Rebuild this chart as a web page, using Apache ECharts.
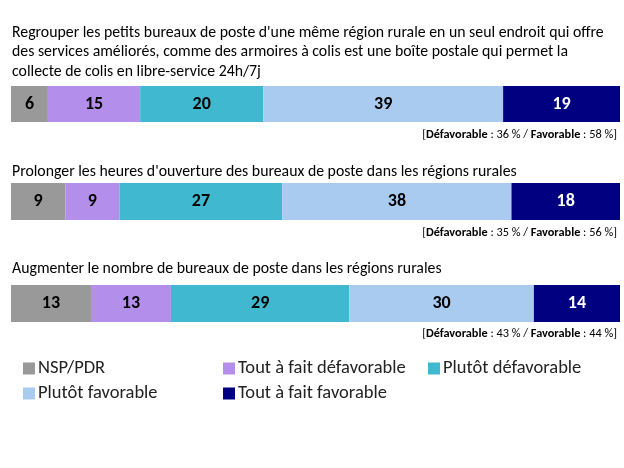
<!DOCTYPE html>
<html><head><meta charset="utf-8">
<script src="https://cdn.jsdelivr.net/npm/echarts@6/dist/echarts.min.js"></script>
<style>html,body{margin:0;padding:0;background:#fff}#c{width:624px;height:468px}</style>
</head><body><div id="c"></div>
<script>
const questions = [
  "Regrouper les petits bureaux de poste d'une même région rurale en un seul endroit qui offre\ndes services améliorés, comme des armoires à colis est une boîte postale qui permet la\ncollecte de colis en libre-service 24h/7j",
  "Prolonger les heures d'ouverture des bureaux de poste dans les régions rurales",
  "Augmenter le nombre de bureaux de poste dans les régions rurales"
];
const seriesNames = ["NSP/PDR", "Tout à fait défavorable", "Plutôt défavorable", "Plutôt favorable", "Tout à fait favorable"];
const nsp = [6, 9, 13];
const toutDefav = [15, 9, 13];
const plutotDefav = [20, 27, 29];
const plutotFav = [39, 38, 30];
const toutFav = [19, 18, 14];
const defavTotals = [36, 35, 43];
const favTotals = [58, 56, 44];

const colors = ["#999999", "#B38FEB", "#40B8CF", "#A9CBF0", "#000080"];
const labelColors = ["#000", "#000", "#000", "#000", "#fff"];
const allValues = [nsp, toutDefav, plutotDefav, plutotFav, toutFav];
const FONT = "Carlito, 'Liberation Sans', sans-serif";

const gridTops = [86, 183, 285];
const gridH = [36, 37, 37];
const titleTops = [23, 162, 259];
const annotTops = [129, 227, 328];

const grids = gridTops.map((t, i) => ({left: 11, right: 4, top: t, height: gridH[i]}));
const xAxes = grids.map((g, i) => ({gridIndex: i, type: 'value', min: 0, max: 100, show: false}));
const yAxes = grids.map((g, i) => ({gridIndex: i, type: 'category', data: [i], show: false}));

const series = [];
for (let r = 0; r < 3; r++) {
  const rowSum = allValues.reduce((s, arr) => s + arr[r], 0);
  allValues.forEach((arr, k) => {
    series.push({
      name: seriesNames[k], type: 'bar', stack: 'row' + r,
      xAxisIndex: r, yAxisIndex: r, barWidth: '100%',
      itemStyle: {color: colors[k]},
      label: {show: true, position: 'inside', color: labelColors[k], fontFamily: FONT,
              fontWeight: 'bold', fontSize: 18, formatter: () => String(arr[r])},
      data: [arr[r] / rowSum * 100]
    });
  });
}

const graphics = [];
questions.forEach((q, i) => {
  graphics.push({type: 'text', left: 12, top: titleTops[i],
    style: {text: q, font: "15.8px " + FONT, fill: '#000', lineHeight: 19.5}});
  graphics.push({type: 'text', right: 7, top: annotTops[i],
    style: {text: '{n|[}{b|Défavorable}{n| : ' + defavTotals[i] + ' % / }{b|Favorable}{n| : ' + favTotals[i] + ' %]}',
      rich: {n: {fontSize: 12.3, fontFamily: FONT, fill: '#000'}, b: {fontSize: 12.3, fontFamily: FONT, fontWeight: 'bold', fill: '#000'}}}});
});

const legendBase = {orient: 'vertical', itemWidth: 12, itemHeight: 12, itemGap: 6, icon: 'rect',
  textStyle: {fontSize: 18.5, fontFamily: FONT, color: '#222', padding: [0, 0, 0, -2]}};
const option = {
  animation: false,
  grid: grids, xAxis: xAxes, yAxis: yAxes, series: series,
  graphic: graphics,
  color: colors,
  legend: [
    Object.assign({}, legendBase, {left: 18, top: 354, data: [seriesNames[0], seriesNames[3]]}),
    Object.assign({}, legendBase, {left: 218, top: 354, data: [seriesNames[1], seriesNames[4]]}),
    Object.assign({}, legendBase, {left: 423, top: 354, data: [seriesNames[2]]})
  ]
};
echarts.init(document.getElementById('c')).setOption(option);
</script></body></html>
